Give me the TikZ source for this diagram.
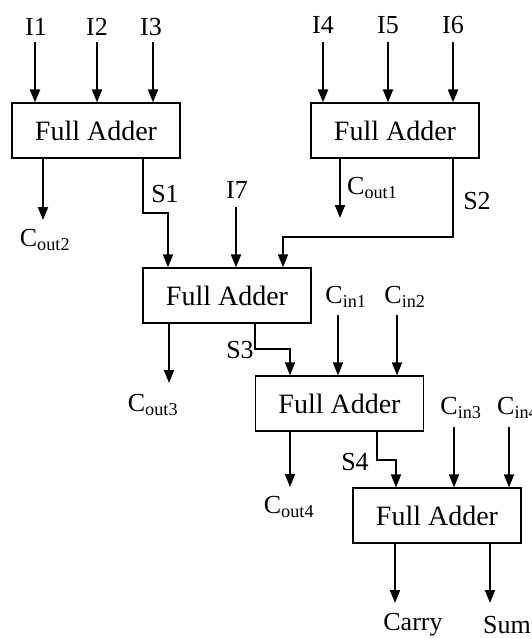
\documentclass[tikz,border=0pt]{standalone}
\usepackage{fontspec}
\setmainfont{Liberation Serif}
\usetikzlibrary{arrows.meta}
\begin{document}
\begin{tikzpicture}[x=1pt,y=-1pt,
  fabox/.style={draw,line width=1.2pt,minimum width=168pt,minimum height=55pt,inner sep=0pt,font=\fontsize{28}{32}\selectfont},
  lbl/.style={inner sep=0pt,font=\fontsize{26}{30}\selectfont},
  arr/.style={line width=2pt,-{Triangle[length=13pt,width=10pt]}},
  wire/.style={line width=1.6pt,-{Triangle[length=13pt,width=10pt]}}]
\useasboundingbox (0,0) rectangle (532,639);
% boxes
\node[fabox] (fa1) at (96,130.5) {Full Adder};
\node[fabox] (fa2) at (395,130.5) {Full Adder};
\node[fabox] (fa3) at (227,295.5) {Full Adder};
\node[fabox] (fa4) at (339.5,403.5) {Full Adder};
\node[fabox] (fa5) at (437,515.5) {Full Adder};
% input labels
\node[lbl] (i1) at (36,27) {I1};
\node[lbl] (i2) at (97,27) {I2};
\node[lbl] (i3) at (151,27) {I3};
\node[lbl] (i4) at (323,25) {I4};
\node[lbl] (i5) at (388,25) {I5};
\node[lbl] (i6) at (453,25) {I6};
\node[lbl] (i7) at (237,190) {I7};
\node[lbl] (cin1) at (346,297) {C\textsubscript{in1}};
\node[lbl] (cin2) at (405,297) {C\textsubscript{in2}};
\node[lbl] (cin3) at (461,408) {C\textsubscript{in3}};
\node[lbl,anchor=west] (cin4) at (497,408) {C\textsubscript{in4}};
% output labels
\node[lbl] (co2) at (45,240) {C\textsubscript{out2}};
\node[lbl,anchor=west] (co1) at (347,188) {C\textsubscript{out1}};
\node[lbl] (co3) at (153,405) {C\textsubscript{out3}};
\node[lbl] (co4) at (289,507) {C\textsubscript{out4}};
\node[lbl] (carry) at (413,625) {Carry};
\node[lbl,anchor=east] (sum) at (531,625) {Sum};
\node[lbl] (s1) at (165,194) {S1};
\node[lbl] (s2) at (477,201) {S2};
\node[lbl] (s3) at (240,350) {S3};
\node[lbl] (s4) at (355,462) {S4};
% coordinates
\coordinate (e2) at (43,220);
\coordinate (e1) at (340,218);
\coordinate (e3) at (169,383);
\coordinate (e4) at (290,487);
\coordinate (ec) at (395,603);
\coordinate (es) at (490,603);
% inputs fa1
\draw[arr] (35,42) -- (35,0 |- fa1.north);
\draw[arr] (97,42) -- (97,0 |- fa1.north);
\draw[arr] (153,42) -- (153,0 |- fa1.north);
% inputs fa2
\draw[arr] (323,42) -- (323,0 |- fa2.north);
\draw[arr] (388,42) -- (388,0 |- fa2.north);
\draw[arr] (453,42) -- (453,0 |- fa2.north);
% carries out
\draw[arr] (e2 |- fa1.south) -- (e2);
\draw[arr] (e1 |- fa2.south) -- (e1);
\draw[arr] (e3 |- fa3.south) -- (e3);
\draw[arr] (e4 |- fa4.south) -- (e4);
\draw[arr] (ec |- fa5.south) -- (ec);
\draw[arr] (es |- fa5.south) -- (es);
% sums
\draw[wire] (143,0 |- fa1.south) -- (143,213) -- (168,213) -- (168,0 |- fa3.north);
\draw[wire] (453,0 |- fa2.south) -- (453,237) -- (283,237) -- (283,0 |- fa3.north);
\draw[arr] (236,207) -- (236,0 |- fa3.north);
\draw[wire] (255,0 |- fa3.south) -- (255,349) -- (290,349) -- (290,0 |- fa4.north);
\draw[arr] (338,315) -- (338,0 |- fa4.north);
\draw[arr] (397,315) -- (397,0 |- fa4.north);
\draw[wire] (377,0 |- fa4.south) -- (377,460) -- (396,460) -- (396,0 |- fa5.north);
\draw[arr] (454,427) -- (454,0 |- fa5.north);
\draw[arr] (509,427) -- (509,0 |- fa5.north);
\end{tikzpicture}
\end{document}
